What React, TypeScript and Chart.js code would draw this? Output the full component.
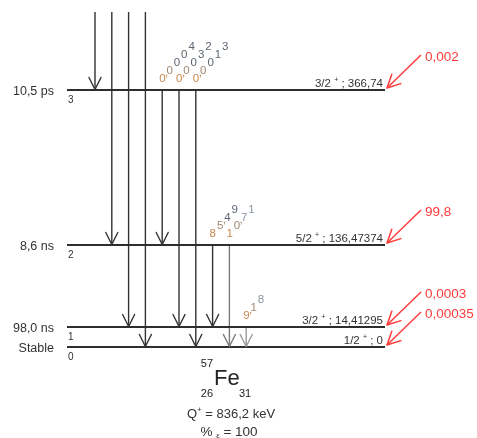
import React, { useEffect, useRef } from "react";
import { Chart, registerables } from "chart.js";
Chart.register(...registerables);

// ---- Data (57Co -> 57Fe decay scheme) ----
const levelEnergyLabels = ["0", "14,41295", "136,47374", "366,74"];
const levelSpins = ["1/2", "3/2", "5/2", "3/2"];
const levelParities = ["+", "+", "+", "+"];
const levelHalfLives = ["Stable", "98,0 ns", "8,6 ns", "10,5 ps"];
const levelNumbers = ["0", "1", "2", "3"];
const ecFeedings = ["0,00035", "0,0003", "99,8", "0,002"];
const feedOrder = [3, 2, 1, 0];
const gammaFrom = [3, 3, 3, 2, 2, 1];
const gammaTo = [2, 1, 0, 1, 0, 0];
const gammaIntensities = ["0,0004", "0,0032", "0,0013", "85,49", "10,71", "9,18"];
const gammaWeak = [false, false, false, false, true, true];
const nuclideA = "57";
const nuclideSymbol = "Fe";
const nuclideZ = "26";
const nuclideN = "31";
const qValue = "836,2 keV";
const ecPercent = "100";

// ---- Schematic layout (diagram units) ----
const LEVEL_HEIGHT = [0, 20, 102, 257];
const FEED_TOP = 335;
const Y_MIN = -91;
const Y_MAX = 347;
const X_MIN = 0;
const X_MAX = 477;
const COL0 = 95;
const COL_STEP = 16.8;
const LINE_X0 = 67;
const LINE_X1 = 385;
const RED = "#ff3b3b";
const FONT = "'Liberation Sans', Arial, sans-serif";

function vHead(ctx: CanvasRenderingContext2D, tx: number, ty: number, ux: number, uy: number, len: number, half: number) {
  const bx = tx - ux * len;
  const by = ty - uy * len;
  const nx = -uy;
  const ny = ux;
  ctx.beginPath();
  ctx.moveTo(bx + nx * half, by + ny * half);
  ctx.lineTo(tx, ty);
  ctx.lineTo(bx - nx * half, by - ny * half);
  ctx.stroke();
}

type Part = { t: string; size: number; dy: number };
function richWidth(ctx: CanvasRenderingContext2D, parts: Part[]) {
  let w = 0;
  for (const p of parts) {
    ctx.font = `${p.size}px ${FONT}`;
    w += ctx.measureText(p.t).width;
  }
  return w;
}
function drawRich(ctx: CanvasRenderingContext2D, parts: Part[], x: number, y: number, align: "left" | "right" | "center") {
  const w = richWidth(ctx, parts);
  let cx = align === "left" ? x : align === "right" ? x - w : x - w / 2;
  ctx.textAlign = "left";
  ctx.textBaseline = "alphabetic";
  for (const p of parts) {
    ctx.font = `${p.size}px ${FONT}`;
    ctx.fillText(p.t, cx, y + p.dy);
    cx += ctx.measureText(p.t).width;
  }
}
function glyphs(s: string) {
  const out: string[] = [];
  for (const ch of s) {
    if (ch === "," && out.length) out[out.length - 1] += ",";
    else out.push(ch);
  }
  return out;
}

const schemePlugin = {
  id: "scheme",
  afterDatasetsDraw(chart: any) {
    const { ctx, scales } = chart;
    const px = (v: number) => scales.x.getPixelForValue(v);
    const py = (v: number) => scales.y.getPixelForValue(v);
    ctx.save();
    ctx.lineCap = "round";
    ctx.lineJoin = "round";

    // feeding arrowheads
    feedOrder.forEach((lv, j) => {
      ctx.strokeStyle = "#333";
      ctx.lineWidth = 1.4;
      vHead(ctx, px(COL0 + j * COL_STEP), py(LEVEL_HEIGHT[lv]) - 0.5, 0, 1, 12, 6);
    });
    // gamma arrowheads
    gammaFrom.forEach((f, k) => {
      ctx.strokeStyle = gammaWeak[k] ? (k === 5 ? "#9a9a9a" : "#7a7a7a") : "#333";
      ctx.lineWidth = 1.4;
      vHead(ctx, px(COL0 + (4 + k) * COL_STEP), py(LEVEL_HEIGHT[gammaTo[k]]) - 0.5, 0, 1, 12, 6);
    });

    // gamma labels along diagonals
    gammaFrom.forEach((f, k) => {
      const gx = px(COL0 + (4 + k) * COL_STEP) - 3;
      const gy = py(LEVEL_HEIGHT[f]) - 8.5;
      const gs = glyphs(gammaIntensities[k]);
      const base = gammaWeak[k] ? "#8c97a4" : "#5d6672";
      ctx.font = `11.5px ${FONT}`;
      ctx.textAlign = "left";
      ctx.textBaseline = "alphabetic";
      gs.forEach((g, i) => {
        const x0 = gx + i * 7.3;
        const y0 = gy - i * 8;
        ctx.fillStyle = i === 0 ? "#c8874c" : i === 1 ? "#a08874" : base;
        const d = g[0];
        ctx.fillText(d, x0, y0);
        if (g.length > 1) {
          ctx.fillText(",", x0 + ctx.measureText(d).width - 0.5, y0 - 6);
        }
      });
    });

    // level texts
    levelEnergyLabels.forEach((e, i) => {
      const yp = py(LEVEL_HEIGHT[i]);
      ctx.fillStyle = "#333";
      drawRich(
        ctx,
        [
          { t: levelSpins[i] + " ", size: 11.5, dy: 0 },
          { t: levelParities[i], size: 7, dy: -5 },
          { t: " ; " + e, size: 11.5, dy: 0 },
        ],
        LINE_X1 - 2,
        yp - 3,
        "right"
      );
      ctx.font = `12.5px ${FONT}`;
      ctx.textAlign = "right";
      ctx.fillText(levelHalfLives[i], 54, yp + 4.5);
      ctx.font = `10px ${FONT}`;
      ctx.textAlign = "left";
      ctx.fillText(levelNumbers[i], 68, yp + 12.5);
    });

    // EC feeding red arrows: heads and labels
    ecFeedings.forEach((v, i) => {
      const tx = px(LINE_X1 + 2);
      const ty = py(LEVEL_HEIGHT[i] + 2);
      const sx = px(LINE_X1 + 36);
      const sy = py(LEVEL_HEIGHT[i] + 35);
      const L = Math.hypot(tx - sx, ty - sy);
      ctx.strokeStyle = RED;
      ctx.lineWidth = 1.5;
      vHead(ctx, tx, ty, (tx - sx) / L, (ty - sy) / L, 13, 6.5);
      ctx.fillStyle = RED;
      ctx.font = `13.5px ${FONT}`;
      ctx.textAlign = "left";
      ctx.textBaseline = "middle";
      ctx.fillText(v, sx + 4, sy + 2);
    });

    // nuclide block
    ctx.fillStyle = "#222";
    ctx.textBaseline = "alphabetic";
    ctx.font = `11px ${FONT}`;
    ctx.textAlign = "right";
    ctx.fillText(nuclideA, 213, 367);
    ctx.fillText(nuclideZ, 213, 397);
    ctx.textAlign = "left";
    ctx.fillText(nuclideN, 239, 397);
    ctx.font = `22px ${FONT}`;
    ctx.fillText(nuclideSymbol, 214, 385);
    ctx.fillStyle = "#333";
    drawRich(
      ctx,
      [
        { t: "Q", size: 13, dy: 0 },
        { t: "+", size: 8, dy: -6 },
        { t: " = " + qValue, size: 13, dy: 0 },
      ],
      231,
      418,
      "center"
    );
    drawRich(
      ctx,
      [
        { t: "% ", size: 13.5, dy: 0 },
        { t: "ε", size: 8, dy: 2 },
        { t: " = " + ecPercent, size: 13.5, dy: 0 },
      ],
      229,
      436,
      "center"
    );
    ctx.restore();
  },
};

export default function App() {
  const ref = useRef<HTMLCanvasElement>(null);
  useEffect(() => {
    document.body.style.margin = "0";
    const canvas = ref.current!;
    const datasets: any[] = [];
    LEVEL_HEIGHT.forEach((h) => {
      datasets.push({ data: [{ x: LINE_X0, y: h }, { x: LINE_X1, y: h }], borderColor: "#2e2e2e", borderWidth: 1.8 });
    });
    feedOrder.forEach((lv, j) => {
      const xc = COL0 + j * COL_STEP;
      datasets.push({ data: [{ x: xc, y: FEED_TOP }, { x: xc, y: LEVEL_HEIGHT[lv] }], borderColor: "#333", borderWidth: 1.4 });
    });
    gammaFrom.forEach((f, k) => {
      const xc = COL0 + (4 + k) * COL_STEP;
      datasets.push({
        data: [{ x: xc, y: LEVEL_HEIGHT[f] }, { x: xc, y: LEVEL_HEIGHT[gammaTo[k]] }],
        borderColor: gammaWeak[k] ? (k === 5 ? "#9a9a9a" : "#7a7a7a") : "#333",
        borderWidth: 1.4,
      });
    });
    ecFeedings.forEach((_, i) => {
      const h = LEVEL_HEIGHT[i];
      datasets.push({ data: [{ x: LINE_X1 + 36, y: h + 35 }, { x: LINE_X1 + 2, y: h + 2 }], borderColor: RED, borderWidth: 1.5 });
    });
    const chart = new Chart(canvas, {
      type: "scatter",
      data: {
        datasets: datasets.map((d) => ({ ...d, showLine: true, pointRadius: 0, pointHoverRadius: 0, fill: false, tension: 0, clip: false })),
      },
      options: {
        animation: false,
        responsive: false,
        devicePixelRatio: 1,
        events: [],
        layout: { padding: 0 },
        plugins: { legend: { display: false }, tooltip: { enabled: false } },
        scales: {
          x: { type: "linear", min: X_MIN, max: X_MAX, display: false },
          y: { type: "linear", min: Y_MIN, max: Y_MAX, display: false },
        },
      },
      plugins: [schemePlugin],
    } as any);
    return () => chart.destroy();
  }, []);
  return <canvas ref={ref} width={477} height={438} style={{ display: "block" }} />;
}
